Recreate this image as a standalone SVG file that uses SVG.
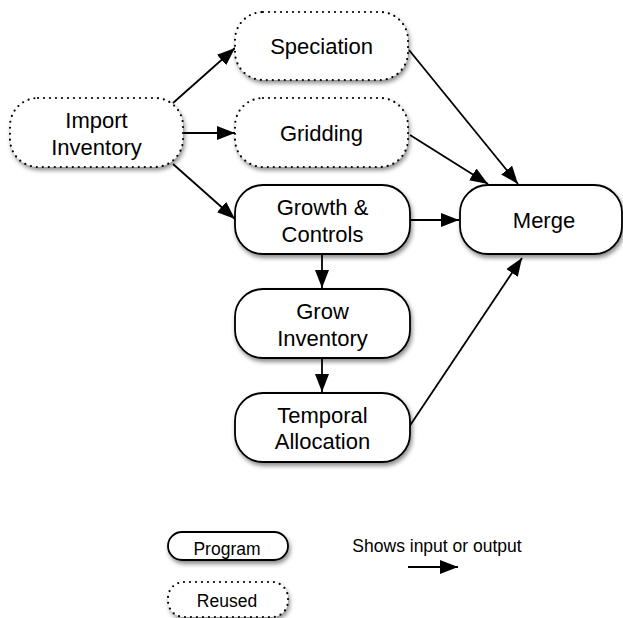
<svg xmlns="http://www.w3.org/2000/svg" width="623" height="618" viewBox="0 0 623 618">
<style>
.box{fill:#fff;stroke:#000;stroke-width:1.8;filter:url(#sh)}
.reused{stroke-dasharray:0 6;stroke-linecap:round;stroke-width:2.2}
.t{font-family:"Liberation Sans",Arial,sans-serif;font-size:22px;fill:#000;text-anchor:middle}
.s{font-family:"Liberation Sans",Arial,sans-serif;font-size:17.5px;fill:#000;text-anchor:middle}
.c{stroke:#000;stroke-width:1.8;fill:none;marker-end:url(#ah)}
</style>
<defs>
<filter id="sh" x="-20%" y="-20%" width="140%" height="150%">
<feDropShadow dx="1.5" dy="3" stdDeviation="2" flood-color="#000" flood-opacity="0.45"/>
</filter>
<marker id="ah" markerUnits="userSpaceOnUse" markerWidth="20" markerHeight="14" refX="18" refY="7" orient="auto">
<path d="M0,0 L18,7 L0,14 z" fill="#000"/>
</marker>
</defs>
<rect width="623" height="618" fill="#fff"/>
<g id="connectors">
<path class="c" d="M173,103 L235,48"/>
<path class="c" d="M184,133 L235,133"/>
<path class="c" d="M173,164 L235,219"/>
<path class="c" d="M409,50 L518,184"/>
<path class="c" d="M410,135 L488,184"/>
<path class="c" d="M410,220 L459,220"/>
<path class="c" d="M322,254 L322,288"/>
<path class="c" d="M322,358 L322,392"/>
<path class="c" d="M409,427 L522,258"/>
</g>
<g id="import-inventory">
<rect class="box reused" x="10" y="98" width="173" height="69" rx="28"/>
<text class="t" x="96.5" y="127.5">Import</text>
<text class="t" x="96.5" y="154.5">Inventory</text>
</g>
<g id="speciation">
<rect class="box reused" x="235" y="12" width="173" height="68" rx="28"/>
<text class="t" x="321.5" y="54">Speciation</text>
</g>
<g id="gridding">
<rect class="box reused" x="235" y="98" width="173" height="69" rx="28"/>
<text class="t" x="321.5" y="140.5">Gridding</text>
</g>
<g id="growth-controls">
<rect class="box" x="235" y="185" width="175" height="69" rx="28"/>
<text class="t" x="322.5" y="214.5">Growth &amp;</text>
<text class="t" x="322.5" y="241.5">Controls</text>
</g>
<g id="merge">
<rect class="box" x="460" y="185" width="162" height="69" rx="28"/>
<text class="t" x="544" y="227.5">Merge</text>
</g>
<g id="grow-inventory">
<rect class="box" x="235" y="289" width="175" height="69" rx="28"/>
<text class="t" x="322.5" y="318.5">Grow</text>
<text class="t" x="322.5" y="345.5">Inventory</text>
</g>
<g id="temporal-allocation">
<rect class="box" x="235" y="393" width="175" height="69" rx="28"/>
<text class="t" x="322.5" y="422.5">Temporal</text>
<text class="t" x="322.5" y="449">Allocation</text>
</g>
<g id="legend">
<g id="legend-program">
<rect class="box" x="168" y="532" width="120" height="28" rx="14"/>
<text class="s" x="227" y="555">Program</text>
</g>
<g id="legend-reused">
<rect class="box reused" x="168" y="582" width="120" height="35" rx="16"/>
<text class="s" x="227" y="607">Reused</text>
</g>
<g id="legend-arrow">
<text class="s" x="437" y="552">Shows input or output</text>
<path class="c" d="M408,567 L458,567"/>
</g>
</g>
</svg>
